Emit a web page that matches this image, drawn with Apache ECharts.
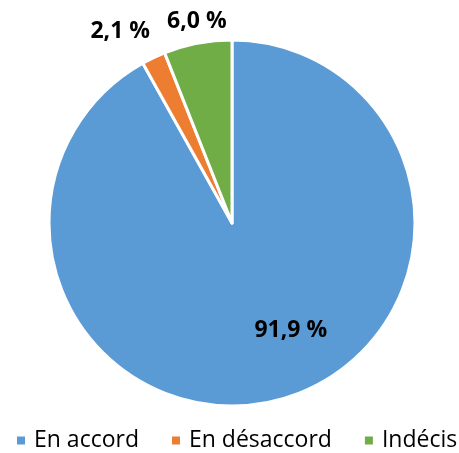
<!DOCTYPE html>
<html><head><meta charset="utf-8">
<script src="https://cdn.jsdelivr.net/npm/echarts@6/dist/echarts.min.js"></script>
<style>html,body{margin:0;padding:0;background:#fff}#c{width:459px;height:453px}</style>
</head><body><div id="c"></div>
<script>
const categories = ['En accord', 'En désaccord', 'Indécis'];
const values = [91.9, 2.1, 6.0];
const colors = ['#5B9BD5', '#ED7D31', '#70AD47'];
const labelOffsets = [[35, 16], [18, -2], [44, 5]];

const chart = echarts.init(document.getElementById('c'), null, {renderer: 'canvas'});
chart.setOption({
  animation: false,
  color: colors,
  textStyle: {fontFamily: 'Open Sans'},
  legend: {
    bottom: 1,
    left: 15,
    padding: 0,
    itemWidth: 10, itemHeight: 10, itemGap: 31,
    icon: 'rect',
    textStyle: {fontSize: 23, color: '#000', fontFamily: 'Open Sans', padding: [0, 0, 0, 3]},
    data: categories
  },
  series: [{
    type: 'pie',
    center: [232, 223],
    radius: [0, 183],
    startAngle: 90,
    clockwise: true,
    avoidLabelOverlap: false,
    itemStyle: {borderColor: '#fff', borderWidth: 3},
    label: {
      show: true, position: 'outside',
      formatter: p => p.value.toFixed(1).replace('.', ',') + ' %',
      fontSize: 23, fontWeight: 'bold', color: '#000', fontFamily: 'Open Sans'
    },
    labelLine: {show: false, length: 27, length2: 5},
    labelLayout: p => ({dx: labelOffsets[p.dataIndex][0], dy: labelOffsets[p.dataIndex][1]}),
    data: categories.map((c, i) => ({
      name: c, value: values[i],
      label: i === 0 ? {position: 'inside'} : {}
    }))
  }]
});
</script></body></html>
